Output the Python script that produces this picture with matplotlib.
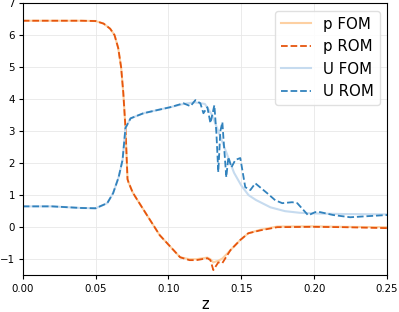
import numpy as np
import matplotlib
matplotlib.use("Agg")
import matplotlib.pyplot as plt

# pressure
z_p = [0.0, 0.02, 0.04, 0.05, 0.0555, 0.0600, 0.0630, 0.0655, 0.0675, 0.069, 0.0705, 0.0719,
       0.0726, 0.0755, 0.0788, 0.0856, 0.094, 0.1007, 0.108, 0.1144, 0.1192, 0.1267, 0.1288,
       0.1308, 0.1342, 0.1370, 0.1425, 0.1493, 0.1548, 0.163, 0.1747, 0.199, 0.22, 0.25]
p_rom = [6.45, 6.45, 6.45, 6.44, 6.36, 6.2, 6.0, 5.6, 5.0, 4.2, 3.1, 1.5,
         1.4, 1.08, 0.84, 0.35, -0.25, -0.58, -0.94, -1.03, -1.03, -0.97, -1.03,
         -1.34, -1.1, -1.12, -0.72, -0.4, -0.19, -0.1, 0.0, 0.01, 0.0, -0.03]
p_fom = [6.45, 6.45, 6.45, 6.44, 6.36, 6.2, 6.0, 5.6, 5.0, 4.2, 3.1, 1.5,
         1.4, 1.08, 0.84, 0.35, -0.25, -0.58, -0.94, -1.0, -1.0, -0.95, -1.0,
         -1.1, -1.05, -0.98, -0.72, -0.4, -0.19, -0.08, 0.02, 0.03, 0.01, 0.0]

# velocity ROM
z_u = [0.0, 0.02, 0.04, 0.05, 0.058, 0.062, 0.0658, 0.0685, 0.0705, 0.0740, 0.0829, 0.0925,
       0.1014, 0.1103, 0.1151, 0.1185, 0.1219, 0.1240, 0.1267, 0.1288, 0.1315, 0.1329, 0.1342,
       0.1356, 0.1370, 0.1377, 0.1397, 0.1411, 0.1432, 0.1459, 0.1493, 0.1527, 0.1562, 0.1596,
       0.1678, 0.1733, 0.1781, 0.1849, 0.1884, 0.1959, 0.2007, 0.2041, 0.2130, 0.2247, 0.25]
u_rom = [0.65, 0.65, 0.6, 0.59, 0.75, 1.06, 1.56, 2.1, 3.1, 3.4, 3.56, 3.66,
         3.75, 3.87, 3.78, 3.97, 3.87, 3.56, 3.75, 3.25, 3.81, 2.94, 1.72,
         3.0, 3.28, 2.8, 1.56, 2.19, 1.87, 2.1, 2.16, 1.25, 1.16, 1.37,
         1.06, 0.84, 0.75, 0.78, 0.75, 0.37, 0.47, 0.47, 0.38, 0.31, 0.38]

# velocity FOM (smooth)
z_uf = [0.0, 0.02, 0.04, 0.05, 0.058, 0.062, 0.0658, 0.0685, 0.0705, 0.0740, 0.0829, 0.0925,
        0.1014, 0.1103, 0.118, 0.125, 0.13, 0.135, 0.14, 0.145, 0.15, 0.155, 0.16,
        0.17, 0.18, 0.19, 0.20, 0.22, 0.25]
u_fom = [0.65, 0.65, 0.6, 0.59, 0.75, 1.06, 1.56, 2.1, 3.1, 3.4, 3.56, 3.66,
         3.75, 3.85, 3.9, 3.85, 3.5, 2.9, 2.3, 1.7, 1.3, 1.0, 0.85,
         0.62, 0.5, 0.45, 0.43, 0.41, 0.4]

fig, ax = plt.subplots(figsize=(3.99, 3.12), dpi=100)

ax.plot(z_p, p_fom, color="#fdd0a2", lw=1.5, label="p FOM")
ax.plot(z_p, p_rom, color="#e6550d", lw=1.3, ls="--", label="p ROM")
ax.plot(z_uf, u_fom, color="#c6dbef", lw=1.5, label="U FOM")
ax.plot(z_u, u_rom, color="#3182bd", lw=1.3, ls="--", label="U ROM")

ax.set_xlim(0, 0.25)
ax.set_ylim(-1.5, 7)
ax.set_xticks([0.0, 0.05, 0.10, 0.15, 0.20, 0.25])
ax.set_yticks(range(-1, 8))
ax.grid(True, color="#e8e8e8", lw=0.6)
ax.tick_params(labelsize=7.4, length=3)
ax.tick_params(axis="y", pad=2.5)
ax.set_xlabel("z", fontsize=10.5, labelpad=2)
ax.legend(loc="upper right", fontsize=10.8, framealpha=0.9, edgecolor="#dddddd")

fig.subplots_adjust(left=0.057, right=0.97, top=0.99, bottom=0.118)
fig.savefig("out.png", dpi=100)
